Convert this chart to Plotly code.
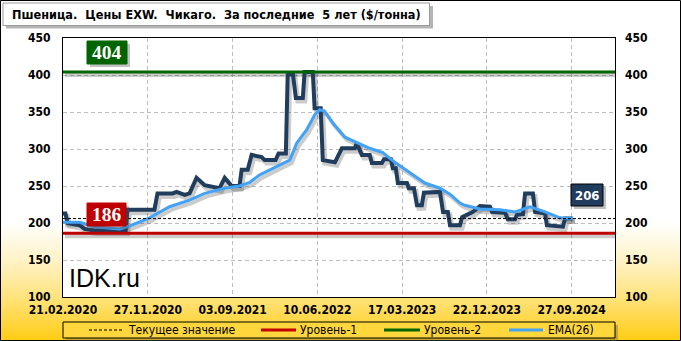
import plotly.graph_objects as go
import pandas as pd

# ---------------- data ----------------
price_dates = [
    "2020-02-21", "2020-02-29", "2020-03-07", "2020-04-16", "2020-05-02", "2020-06-04",
    "2020-07-24", "2020-08-26", "2020-09-15", "2020-09-21", "2020-12-19", "2020-12-29",
    "2021-02-17", "2021-03-02", "2021-03-29", "2021-04-14", "2021-05-07", "2021-06-03",
    "2021-07-22", "2021-08-08", "2021-08-31", "2021-09-26", "2021-10-03", "2021-10-23",
    "2021-11-05", "2021-11-25", "2021-12-08", "2021-12-18", "2022-01-23", "2022-02-02",
    "2022-02-26", "2022-03-04", "2022-03-21", "2022-03-31", "2022-04-23", "2022-04-29",
    "2022-05-26", "2022-06-01", "2022-06-21", "2022-06-28", "2022-08-07", "2022-08-30",
    "2022-10-12", "2022-10-18", "2022-11-04", "2022-11-30", "2022-12-07", "2023-01-09",
    "2023-01-16", "2023-02-08", "2023-02-14", "2023-02-24", "2023-03-03", "2023-04-02",
    "2023-04-08", "2023-04-25", "2023-05-05", "2023-05-21", "2023-05-28", "2023-07-20",
    "2023-07-30", "2023-08-15", "2023-08-22", "2023-09-24", "2023-10-01", "2023-11-06",
    "2023-11-29", "2024-01-01", "2024-01-08", "2024-02-20", "2024-02-29", "2024-03-24",
    "2024-03-30", "2024-04-19", "2024-04-26", "2024-05-22", "2024-05-29", "2024-07-01",
    "2024-07-07", "2024-08-29", "2024-09-05", "2024-10-01",
]
price_values = [
    213, 213, 200, 197, 192, 190,
    190, 191, 190, 218, 218, 240,
    240, 242, 238, 240, 261, 251,
    247, 261, 250, 250, 272, 272,
    292, 290, 289, 285, 285, 294,
    294, 400, 402, 369, 369, 404,
    404, 355, 355, 285, 282, 301,
    301, 308, 292, 292, 281, 281,
    286, 286, 274, 274, 254, 254,
    247, 247, 224, 224, 241, 242,
    215, 215, 197, 197, 208, 215,
    223, 222, 215, 214, 205, 205,
    211, 212, 240, 240, 215, 213,
    197, 195, 206, 206,
]

ema_dates = [
    "2020-02-21", "2020-04-16", "2020-06-04", "2020-08-26", "2020-09-28", "2020-12-03",
    "2021-02-07", "2021-04-14", "2021-06-03", "2021-08-08", "2021-09-26", "2021-10-30",
    "2021-12-02", "2022-02-06", "2022-03-11", "2022-04-03", "2022-05-06", "2022-06-01",
    "2022-06-18", "2022-07-04", "2022-07-31", "2022-09-09", "2022-10-18", "2022-11-30",
    "2023-01-12", "2023-02-21", "2023-04-12", "2023-05-31", "2023-07-20", "2023-08-22",
    "2023-09-24", "2023-10-10", "2023-11-29", "2024-02-03", "2024-03-24", "2024-05-12",
    "2024-07-01", "2024-08-19", "2024-10-01",
]
ema_values = [
    201, 201, 195, 192, 196, 207,
    222, 231, 240, 247, 250, 255,
    265, 278, 285, 308, 326, 346,
    353, 351, 335, 316, 309, 301,
    295, 282, 268, 254, 247, 239,
    227, 224, 219, 218, 215, 222,
    215, 207, 206,
]

current_value = 206
level1 = 186
level2 = 404

x_start = "2020-02-21"
x_end = "2025-02-17"

x_tick_dates = ["2020-02-21", "2020-11-27", "2021-09-03", "2022-06-10",
                "2023-03-17", "2023-12-22", "2024-09-27"]
x_tick_labels = ["21.02.2020", "27.11.2020", "03.09.2021", "10.06.2022",
                 "17.03.2023", "22.12.2023", "27.09.2024"]
y_ticks = [100, 150, 200, 250, 300, 350, 400, 450]
y_range = [100, 450]

title_text = "Пшеница.\u00a0 Цены EXW.\u00a0 Чикаго.\u00a0 За последние\u00a0 5 лет ($/тонна)"
legend_names = ["Текущее значение", "Уровень-1", "Уровень-2", "EMA(26)"]

# ---------------- layout helpers ----------------
W, H = 681, 341
ML, MR, MT, MB = 63, 66, 38, 44
PW = W - ML - MR
PH = H - MT - MB


def px(x):
    return (x - ML) / PW


def py(y):
    return (H - MB - y) / PH


FONT_B = "DejaVu Sans Condensed, DejaVu Sans"
C_PRICE = "#213D5E"
C_EMA = "#42A2F5"
C_RED = "#C00000"
C_GREEN = "#006400"
C_SHADOW = "rgba(70,70,70,0.28)"

# shadow subplot: same data on axes whose ranges are shifted by a few pixels
SH_DX, SH_DY = 2, 3
t0, t1 = pd.Timestamp(x_start), pd.Timestamp(x_end)
day_span = (t1 - t0) / PW
sh_x_range = [t0 - SH_DX * day_span, t1 - SH_DX * day_span]
val_per_px = (y_range[1] - y_range[0]) / PH
sh_y_range = [y_range[0] + SH_DY * val_per_px, y_range[1] + SH_DY * val_per_px]

fig = go.Figure()

series = [
    (price_dates, price_values, dict(color=C_PRICE, width=4)),
    (ema_dates, ema_values, dict(color=C_EMA, width=3)),
    ([x_start, x_end], [current_value, current_value], dict(color="black", width=1, dash="3px,2px")),
    ([x_start, x_end], [level1, level1], dict(color=C_RED, width=3)),
    ([x_start, x_end], [level2, level2], dict(color=C_GREEN, width=3)),
]
# shadows (base axes, hidden)
for i, (xs, ys, ln) in enumerate(series):
    if i == 2:
        continue
    fig.add_trace(go.Scatter(x=xs, y=ys, mode="lines", xaxis="x", yaxis="y",
                             line=dict(color=C_SHADOW, width=ln["width"] + 1),
                             showlegend=False, hoverinfo="skip"))
# visible series
for xs, ys, ln in series:
    fig.add_trace(go.Scatter(x=xs, y=ys, mode="lines", xaxis="x2", yaxis="y2",
                             line=ln, showlegend=False, hoverinfo="skip"))
# right axis carrier
fig.add_trace(go.Scatter(x=[x_start, x_end], y=[level1, level1], mode="lines",
                         line=dict(width=0), opacity=0, xaxis="x2", yaxis="y3",
                         showlegend=False, hoverinfo="skip"))

shapes = []
# background gradient (white -> golden)
g_top, g_bot = 222, 341
stops = [(222, (255, 255, 255)), (260, (255, 243, 200)), (300, (255, 226, 120)),
         (341, (255, 204, 20))]
n = 60
for i in range(n):
    y0 = g_top + (g_bot - g_top) * i / n
    y1 = g_top + (g_bot - g_top) * (i + 1) / n
    ym = (y0 + y1) / 2
    for j in range(len(stops) - 1):
        if stops[j][0] <= ym <= stops[j + 1][0]:
            t = (ym - stops[j][0]) / (stops[j + 1][0] - stops[j][0])
            c = [round(stops[j][1][k] + t * (stops[j + 1][1][k] - stops[j][1][k])) for k in range(3)]
            break
    shapes.append(dict(type="rect", xref="paper", yref="paper", layer="below",
                       x0=px(0), x1=px(W), y0=py(y0 - 0.5), y1=py(y1 + 0.5),
                       fillcolor=f"rgb({c[0]},{c[1]},{c[2]})", line=dict(width=0)))
# plot area white
shapes.append(dict(type="rect", xref="paper", yref="paper", layer="below",
                   x0=0, x1=1, y0=0, y1=1, fillcolor="white", line=dict(width=0)))
# outer border
shapes.append(dict(type="rect", xref="paper", yref="paper",
                   x0=px(0.5), x1=px(W - 0.5), y0=py(0.5), y1=py(H - 0.5),
                   line=dict(color="black", width=1)))
# title box + shadow
shapes.append(dict(type="rect", xref="paper", yref="paper",
                   x0=px(6), x1=px(433), y0=py(6), y1=py(28.5),
                   fillcolor="rgba(90,90,90,0.45)", line=dict(width=0)))
shapes.append(dict(type="rect", xref="paper", yref="paper",
                   x0=px(3), x1=px(429.5), y0=py(3), y1=py(25.5),
                   fillcolor="white", line=dict(color="#9a9a9a", width=1)))


def label_box(x0, x1, y0, y1, color, border=None):
    shapes.append(dict(type="rect", xref="paper", yref="paper",
                       x0=px(x0 + 3), x1=px(x1 + 3), y0=py(y0 + 3), y1=py(y1 + 3),
                       fillcolor="rgba(80,80,80,0.35)", line=dict(width=0)))
    shapes.append(dict(type="rect", xref="paper", yref="paper",
                       x0=px(x0), x1=px(x1), y0=py(y0), y1=py(y1), fillcolor=color,
                       line=dict(color=border or color, width=1)))


label_box(87, 127, 41, 64, C_GREEN)
label_box(87, 126, 203, 226, C_RED)
label_box(571, 603, 184, 206, C_PRICE, border="black")

# legend box + items
shapes.append(dict(type="rect", xref="paper", yref="paper",
                   x0=px(66), x1=px(618), y0=py(325), y1=py(341),
                   fillcolor="rgba(90,90,90,0.35)", line=dict(width=0)))
shapes.append(dict(type="rect", xref="paper", yref="paper",
                   x0=px(63), x1=px(615), y0=py(322), y1=py(338),
                   fillcolor="rgb(255,214,60)", line=dict(color="black", width=1)))
leg_items = [
    (89, 122, "black", 1, "3px,2px", 126),
    (261, 296, C_RED, 3, "solid", 298),
    (384, 420, C_GREEN, 3, "solid", 422),
    (509, 543, C_EMA, 3, "solid", 546),
]
for (a, b, col, w, d, _t) in leg_items:
    shapes.append(dict(type="line", xref="paper", yref="paper",
                       x0=px(a), x1=px(b), y0=py(330), y1=py(330),
                       line=dict(color=col, width=w, dash=d)))

annotations = []
annotations.append(dict(xref="paper", yref="paper", x=px(10), y=py(14.5),
                        xanchor="left", yanchor="middle", showarrow=False,
                        text=f"<b>{title_text}</b>",
                        font=dict(family=FONT_B, size=12.6, color="black")))
for (a, b, col, w, d, t), name in zip(leg_items, legend_names):
    annotations.append(dict(xref="paper", yref="paper", x=px(t), y=py(330),
                            xanchor="left", yanchor="middle", showarrow=False,
                            text=name, font=dict(family=FONT_B, size=12, color="black")))
annotations.append(dict(xref="paper", yref="paper", x=px(107), y=py(52.5),
                        xanchor="center", yanchor="middle", showarrow=False,
                        text=f"<b>{level2}</b>",
                        font=dict(family="Liberation Serif", size=19.5, color="white")))
annotations.append(dict(xref="paper", yref="paper", x=px(106.5), y=py(214.5),
                        xanchor="center", yanchor="middle", showarrow=False,
                        text=f"<b>{level1}</b>",
                        font=dict(family="Liberation Serif", size=19.5, color="white")))
annotations.append(dict(xref="paper", yref="paper", x=px(587), y=py(195),
                        xanchor="center", yanchor="middle", showarrow=False,
                        text=f"<b>{current_value}</b>",
                        font=dict(family=FONT_B, size=13, color="white")))
annotations.append(dict(xref="paper", yref="paper", x=px(67), y=py(278),
                        xanchor="left", yanchor="middle", showarrow=False,
                        text="IDK.ru",
                        font=dict(family="Liberation Sans, Arial", size=25, color="black")))

tickfont = dict(family=FONT_B, size=12, color="black")
hidden = dict(showgrid=False, zeroline=False, showticklabels=False, ticks="",
              showline=False, fixedrange=True)
fig.update_layout(
    width=W, height=H,
    margin=dict(l=ML, r=MR, t=MT, b=MB, pad=0),
    paper_bgcolor="white",
    plot_bgcolor="rgba(0,0,0,0)",
    showlegend=False,
    xaxis=dict(type="date", range=sh_x_range, **hidden),
    yaxis=dict(range=sh_y_range, **hidden),
    xaxis2=dict(type="date", range=[x_start, x_end], overlaying="x", side="bottom",
                tickvals=x_tick_dates,
                ticktext=[f"<b>{t}</b>" for t in x_tick_labels], tickfont=tickfont,
                showgrid=True, gridcolor="#BDBDBD", griddash="4px,3px", gridwidth=1,
                showline=True, linecolor="black", linewidth=1, mirror=True,
                ticks="", zeroline=False, ticklabelstandoff=2),
    yaxis2=dict(range=y_range, overlaying="y", side="left", tickvals=y_ticks,
                ticktext=[f"<b>{v}</b>" for v in y_ticks], tickfont=tickfont,
                showgrid=True, gridcolor="#BDBDBD", griddash="4px,3px", gridwidth=1,
                showline=True, linecolor="black", linewidth=1, mirror=True,
                ticks="", zeroline=False, ticklabelstandoff=9),
    yaxis3=dict(range=y_range, tickvals=y_ticks, overlaying="y", side="right",
                ticktext=[f"<b>{v}</b>" for v in y_ticks], tickfont=tickfont,
                showgrid=False, zeroline=False, ticks="", ticklabelstandoff=9,
                showline=False),
    shapes=shapes,
    annotations=annotations,
)

fig.write_html("out.html")
